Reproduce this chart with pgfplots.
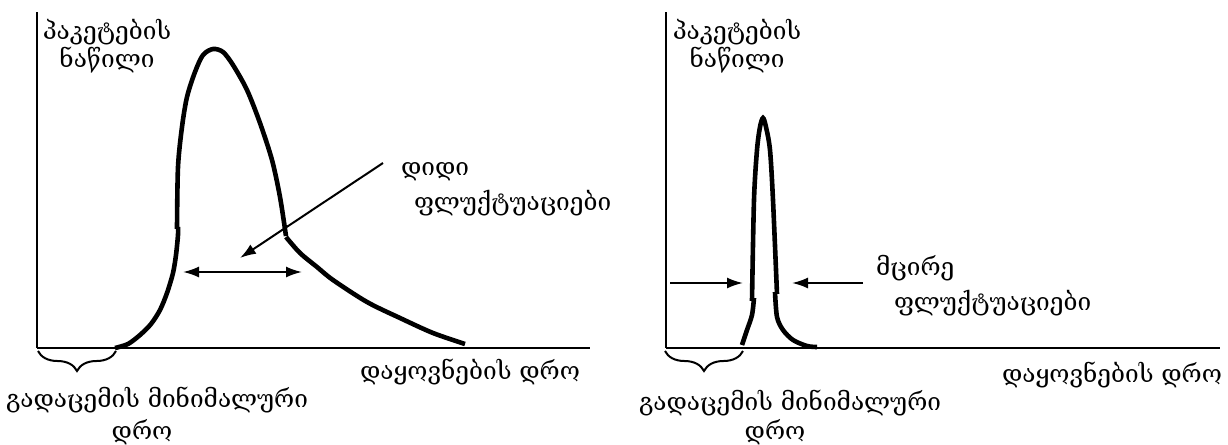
\documentclass[border=0pt]{standalone}
\usepackage{fontspec}
\setmainfont{DejaVu Serif}
\usepackage{pgfplots}
\pgfplotsset{compat=1.18}
\usetikzlibrary{arrows.meta,decorations.pathreplacing}

% delay distributions: wide spread (left) and narrow spread (right)
\pgfplotsset{
  delayaxis/.style={
    x=0.5pt, y=0.5pt,
    xmin=0, ymin=0, ymax=336,
    axis lines=left,
    axis line style={-, line width=1pt},
    xtick=\empty, ytick=\empty,
    enlargelimits=false,
    clip=false,
    anchor=south west,
  },
  curve/.style={black, line width=2.3pt, smooth, no marks},
}
\tikzset{
  note/.style={font=\fontsize{12.2}{14}\selectfont},
  arr/.style={line width=1pt, -{Latex[length=8pt,width=5.5pt]}},
  darr/.style={line width=1pt, {Latex[length=8pt,width=5.5pt]}-{Latex[length=8pt,width=5.5pt]}},
  brc/.style={line width=1pt, decorate, decoration={brace, mirror, amplitude=10pt}},
}

\begin{document}
\begin{tikzpicture}
\useasboundingbox (0,0) rectangle (614pt,-222.5pt);

% ---------- large fluctuations ----------
\begin{axis}[delayaxis, xmax=553, at={(18.5pt,-174pt)}]
  \addplot[curve] coordinates {
    (78,0) (91,4) (103,13) (114,24) (123,38) (130,55) (136,75) (139,93) (141,113) (141,121)};
  \addplot[curve] coordinates {
    (140,119) (141,181) (145,221) (150,251) (158,276) (166,293) (176,299)
    (186,296) (196,283) (210,258) (223,225) (235,188) (243,151) (249,112)};
  \addplot[curve] coordinates {
    (249,111) (263,95) (280,81) (296,68) (330,46) (363,30) (396,15) (428,4)};

  \draw[darr] (axis cs:146,76) -- (axis cs:265,76);
  \draw[arr] (axis cs:346,185) -- (axis cs:203,90);

  \node[note, align=center] at (axis cs:70,302) {პაკეტების\\ნაწილი};
  \node[note, anchor=west] at (axis cs:357,176) {დიდი};
  \node[note, anchor=west] at (axis cs:370,145) {ფლუქტუაციები};
  \node[note] at (axis cs:433,-24) {დაყოვნების დრო};

  \draw[brc] (axis cs:1,-3) -- (axis cs:79,-3);
  \node[note] at (axis cs:120,-52) {გადაცემის მინიმალური};
  \node[note] at (axis cs:105,-84) {დრო};
\end{axis}

% ---------- small fluctuations ----------
\begin{axis}[delayaxis, xmax=554, at={(333pt,-174pt)}]
  \addplot[curve] coordinates {
    (76,3) (81,18) (86,33) (88,50)};
  \addplot[curve] coordinates {
    (86,47) (88,148) (91,198) (94,221) (97,230) (100,221) (104,198) (107,148) (111,54)};
  \addplot[curve] coordinates {
    (109,56) (111,31) (117,18) (127,8) (141,2) (151,1)};

  \draw[arr] (axis cs:4,65) -- (axis cs:77,65);
  \draw[arr] (axis cs:197,65) -- (axis cs:126,65);

  \node[note, align=center] at (axis cs:71,302) {პაკეტების\\ნაწილი};
  \node[note, anchor=west] at (axis cs:203,80) {მცირე};
  \node[note, anchor=west] at (axis cs:221,45) {ფლუქტუაციები};
  \node[note] at (axis cs:446,-27) {დაყოვნების დრო};

  \draw[brc] (axis cs:-1,-3) -- (axis cs:77,-3);
  \node[note] at (axis cs:124,-55) {გადაცემის მინიმალური};
  \node[note] at (axis cs:109,-84) {დრო};
\end{axis}
\end{tikzpicture}
\end{document}
